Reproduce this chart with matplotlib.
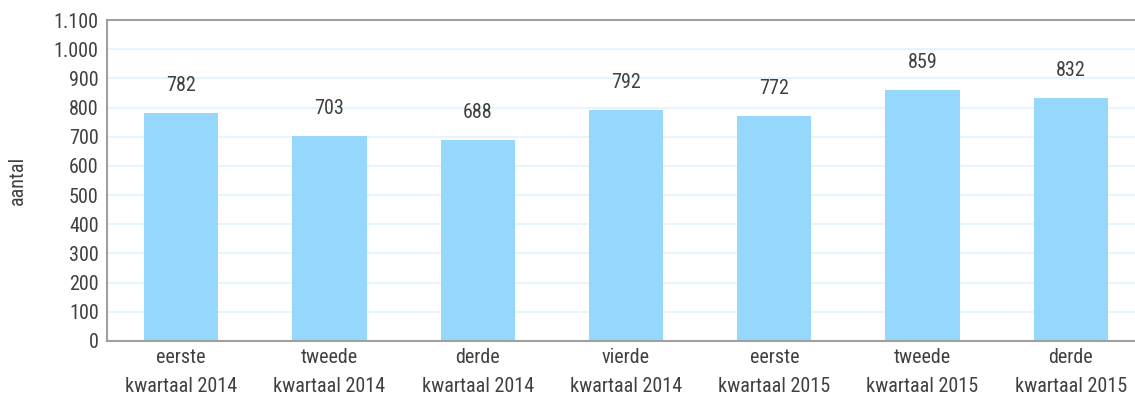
import matplotlib
matplotlib.use("Agg")
import matplotlib.pyplot as plt
from matplotlib import font_manager

categories = ["eerste\nkwartaal 2014", "tweede\nkwartaal 2014", "derde\nkwartaal 2014",
              "vierde\nkwartaal 2014", "eerste\nkwartaal 2015", "tweede\nkwartaal 2015",
              "derde\nkwartaal 2015"]
values = [782, 703, 688, 792, 772, 859, 832]
yticks = list(range(0, 1101, 100))
ytick_labels = ["0", "100", "200", "300", "400", "500", "600", "700", "800", "900", "1.000", "1.100"]

names = {f.name for f in font_manager.fontManager.ttflist}
fam = None
for cand in ["Liberation Sans Narrow", "Roboto Condensed", "Open Sans Condensed", "DejaVu Sans Condensed"]:
    if cand in names:
        fam = cand
        break
stretch = "normal"
if fam is None:
    fam = "DejaVu Sans"
    stretch = "condensed"
plt.rcParams["font.family"] = [fam, "DejaVu Sans"]
plt.rcParams["font.stretch"] = stretch

text_color = "#404040"
fs = 14.5
fig = plt.figure(figsize=(11.35, 4.0), dpi=100)
ax = fig.add_axes([107/1135, 59/400, 1038/1135, 321/400])

x = list(range(len(categories)))
ax.bar(x, values, width=0.5, color="#95d7fd", zorder=2)
for xi, v in zip(x, values):
    ax.annotate(f"{v}", (xi, v), xytext=(0, 13), textcoords="offset points",
                ha="center", va="bottom", fontsize=fs, color=text_color, fontstretch=stretch)

ax.set_xlim(-0.5, len(categories) - 0.5)
ax.set_ylim(0, 1100)
ax.set_yticks(yticks)
ax.set_yticklabels(ytick_labels, fontstretch=stretch)
ax.set_xticks(x)
ax.set_xticklabels(categories, linespacing=1.65, fontstretch=stretch)
ax.tick_params(axis="both", length=0, labelsize=fs, colors=text_color, pad=6)
ax.tick_params(axis="x", pad=5)
ax.yaxis.grid(True, color="#e2f2fb", linewidth=1.2, zorder=0)
ax.set_axisbelow(True)
ax.spines["right"].set_visible(False)
for s in ["left", "top", "bottom"]:
    ax.spines[s].set_color("#a0a0a0")
    ax.spines[s].set_linewidth(1.5)
ax.set_ylabel("aantal", fontsize=fs, color=text_color, fontstretch=stretch)
ax.yaxis.set_label_coords(-80/1038, 0.5)

fig.savefig("out.png", dpi=100)
